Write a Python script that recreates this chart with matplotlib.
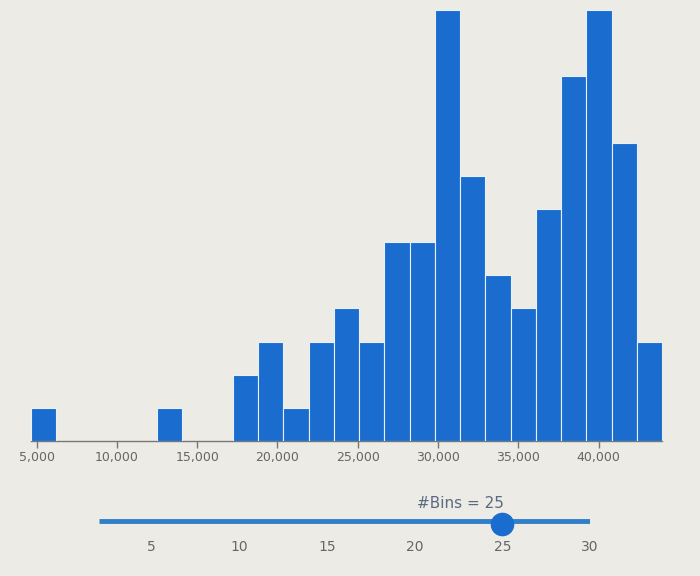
import matplotlib.pyplot as plt
import numpy as np

# histogram data (25 bins)
bin_min = 4650
bin_max = 43950
counts = [1, 0, 0, 0, 0, 1, 0, 0, 2, 3, 1, 3, 4, 3, 6, 6, 13, 8, 5, 4, 7, 11, 13, 9, 3]
x_ticks = [5000, 10000, 15000, 20000, 25000, 30000, 35000, 40000]

# slider
slider_min, slider_max = 2, 30
slider_value = 25
slider_ticks = [5, 10, 15, 20, 25, 30]

bg = "#ecebe6"
bar_color = "#1a6cce"
slider_color = "#2f80c8"
text_color = "#666666"

fig = plt.figure(figsize=(7, 5.76), dpi=100, facecolor=bg)

# ---- histogram ----
ax = fig.add_axes([31 / 700, 135 / 576, 631 / 700, 431 / 576])
ax.set_facecolor(bg)
edges = np.linspace(bin_min, bin_max, len(counts) + 1)
ax.bar(edges[:-1], counts, width=np.diff(edges), align="edge",
       color=bar_color, edgecolor="#e8f0f8", linewidth=0.8, zorder=3)
ax.set_xlim(bin_min, bin_max)
ax.set_ylim(0, max(counts))
for s in ["top", "right", "left"]:
    ax.spines[s].set_visible(False)
ax.spines["bottom"].set_color("#777777")
ax.spines["bottom"].set_linewidth(1)
ax.spines["bottom"].set_zorder(1)
ax.set_yticks([])
ax.set_xticks(x_ticks)
ax.set_xticklabels([f"{t:,}" for t in x_ticks])
ax.tick_params(axis="x", length=5, width=1, color="#777777",
               labelcolor=text_color, labelsize=9, pad=2)

# ---- slider ----
sx = fig.add_axes([99 / 700, 20 / 576, 491 / 700, 70 / 576])
sx.set_facecolor("none")
sx.set_xlim(slider_min, slider_max)
sx.set_ylim(-1, 1)
sx.axis("off")
sx.plot([slider_min, slider_max], [0, 0], color=slider_color,
        linewidth=3.5, solid_capstyle="butt")
sx.plot([slider_value], [-0.08], "o", color="#1a6cce", markersize=16)
sx.text(slider_value - 2.4, 0.5, f"#Bins = {slider_value}", ha="center",
        va="center", fontsize=11, color="#5a6a80")
for t in slider_ticks:
    sx.text(t, -0.74, str(t), ha="center", va="center", fontsize=10,
            color=text_color)

fig.savefig("out.png", dpi=100, facecolor=bg)
